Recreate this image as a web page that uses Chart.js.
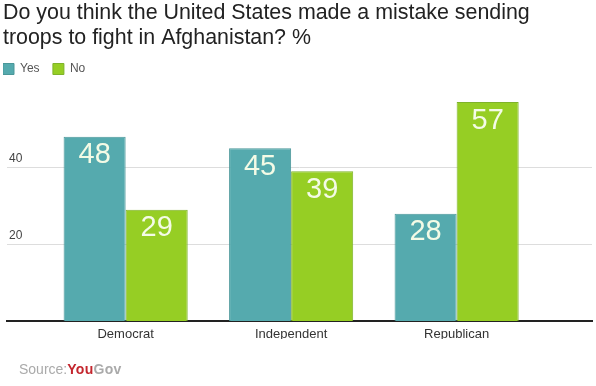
<!DOCTYPE html>
<html>
<head>
    <title>Afghanistan mistake poll</title>
    <script src="https://cdn.jsdelivr.net/npm/chart.js@4/dist/chart.umd.min.js"></script>
    <style>
        body { margin: 0; background: #fff; }
        #wrap { position: relative; width: 596px; height: 386px; }
        #source {
            position: absolute; left: 19px; top: 361px;
            font-family: "Liberation Sans", Arial, sans-serif; font-size: 14px; color: #aaa;
        }
        #source b { letter-spacing: 0.3px; }
        #source .you { color: #c4262e; }
    </style>
</head>
<body>
<div id="wrap">
    <canvas id="myChart" width="596" height="386"></canvas>
    <div id="source">Source:<b><span class="you">You</span>Gov</b></div>
</div>

<script>
    var categories = ["Democrat", "Independent", "Republican"];
    var yesValues = [48, 45, 28];
    var noValues = [29, 39, 57];
    var yTicks = [20, 40];

    function points(values) {
        return values.map(function (v, i) { return { x: i, y: v }; });
    }

    // white numbers inside the top of each bar
    var barLabels = {
        id: "barLabels",
        afterDatasetsDraw: function (chart) {
            var ctx = chart.ctx;
            ctx.save();
            ctx.font = "29px 'Liberation Sans', Arial, sans-serif";
            ctx.fillStyle = "#f4fbe6";
            ctx.textAlign = "center";
            ctx.textBaseline = "alphabetic";
            chart.data.datasets.forEach(function (ds, di) {
                chart.getDatasetMeta(di).data.forEach(function (bar, i) {
                    ctx.fillText(ds.data[i].y, bar.x, bar.y + 26.5);
                });
            });
            ctx.restore();
        }
    };

    // extra room between the legend and the plot
    var legendGap = {
        id: "legendGap",
        beforeInit: function (chart) {
            var fit = chart.legend.fit;
            chart.legend.fit = function () {
                fit.bind(chart.legend)();
                this.height += 5.5;
            };
        }
    };

    var ctx = document.getElementById("myChart").getContext("2d");
    new Chart(ctx, {
        type: "bar",
        data: {
            datasets: [{
                label: "Yes    ",
                data: points(yesValues),
                backgroundColor: "#55aaae",
                borderColor: "#4a9799",
                borderWidth: 1
            }, {
                label: "No",
                data: points(noValues),
                backgroundColor: "#96ce24",
                borderColor: "#7fb32a",
                borderWidth: 1
            }]
        },
        options: {
            responsive: false,
            animation: false,
            layout: { padding: { left: 3, right: 4, top: 0, bottom: 47 } },
            datasets: { bar: { categoryPercentage: 0.75, barPercentage: 1.0 } },
            plugins: {
                title: {
                    display: true,
                    align: "start",
                    text: ["Do you think the United States made a mistake sending",
                           "troops to fight in Afghanistan? %"],
                    color: "#222",
                    font: { family: "'Liberation Sans', Arial, sans-serif", size: 21.4, weight: "normal", lineHeight: 1.18 },
                    padding: { top: 0, bottom: 12.5 }
                },
                legend: {
                    align: "start",
                    labels: {
                        boxWidth: 11,
                        boxHeight: 11,
                        padding: 0,
                        color: "#555",
                        font: { family: "'Liberation Sans', Arial, sans-serif", size: 12 }
                    }
                },
                tooltip: { enabled: false }
            },
            scales: {
                x: {
                    type: "linear",
                    offset: false,
                    min: -0.717,
                    max: 2.818,
                    afterBuildTicks: function (axis) {
                        axis.ticks = categories.map(function (c, i) { return { value: i }; });
                    },
                    ticks: {
                        callback: function (v) { return categories[v]; },
                        color: "#333",
                        padding: -3,
                        font: { family: "'Liberation Sans', Arial, sans-serif", size: 13 }
                    },
                    grid: { display: false },
                    border: { display: true, color: "#222", width: 2 }
                },
                y: {
                    min: 0,
                    max: 60,
                    afterBuildTicks: function (axis) {
                        axis.ticks = [0].concat(yTicks, [60]).map(function (v) { return { value: v }; });
                    },
                    ticks: {
                        mirror: true,
                        padding: 2,
                        labelOffset: -9,
                        color: "#444",
                        font: { family: "'Liberation Sans', Arial, sans-serif", size: 12 },
                        callback: function (v) { return yTicks.indexOf(v) >= 0 ? v : ""; }
                    },
                    grid: {
                        drawTicks: false,
                        color: function (c) { return yTicks.indexOf(c.tick.value) >= 0 ? "#dddddd" : "rgba(0,0,0,0)"; }
                    },
                    border: { display: false }
                }
            }
        },
        plugins: [barLabels, legendGap]
    });
</script>
</body>
</html>
